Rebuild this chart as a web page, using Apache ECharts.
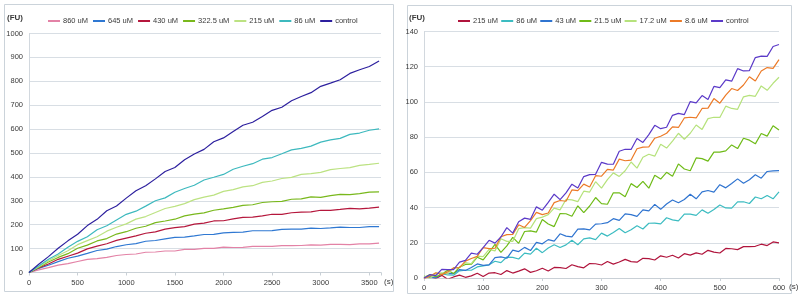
<!DOCTYPE html>
<html>
<head>
<meta charset="utf-8">
<script src="https://cdn.jsdelivr.net/npm/echarts@6/dist/echarts.min.js"></script>
<style>
html,body{margin:0;padding:0;background:#ffffff;}
#chart{width:803px;height:298px;}
</style>
</head>
<body>
<div id="chart"></div>
<script>
// ---------- Left panel data (time in s) ----------
const leftTime = [0,100,200,300,400,500,600,700,800,900,1000,1100,1200,1300,1400,1500,1600,1700,1800,1900,2000,2100,2200,2300,2400,2500,2600,2700,2800,2900,3000,3100,3200,3300,3400,3500,3600];
const leftNames = ['860 uM','645 uM','430 uM','322.5 uM','215 uM','86 uM','control'];
const left860 = [0,11.3,20.5,31.0,36.9,46.0,55.0,58.2,63.2,71.2,75.4,77.4,84.8,85.8,90.0,90.0,96.4,96.4,100.8,100.8,106.0,104.6,105.2,109.6,109.6,109.0,112.2,112.4,113.0,115.2,114.2,117.8,117.4,116.4,120.0,119.4,123.0];
const left645 = [0,17.5,30.3,45.6,59.6,68.6,80.2,92.1,97.5,108.6,116.0,121.0,130.7,133.8,140.6,147.2,148.1,153.3,159.0,159.5,165.6,167.8,169.1,174.6,174.7,175.2,180.6,181.6,181.6,185.7,184.1,186.8,190.0,188.2,188.2,192.1,192.1];
const left430 = [0,19.2,35.6,55.1,68.1,80.9,98.8,110.4,120.4,134.3,143.9,153.3,164.1,170.3,181.7,187.6,192.2,202.2,206.6,215.6,216.5,224.1,230.6,231.8,237.1,243.6,242.9,249.9,253.0,253.6,260.5,259.8,264.0,268.4,266.2,269.6,273.8];
const left3225 = [0,21.3,43.9,63.1,78.8,101.3,114.7,132.0,142.0,160.8,170.7,185.0,193.4,208.9,215.5,223.0,237.1,244.1,249.6,260.5,266.3,272.4,280.5,283.4,292.8,296.0,297.9,306.5,308.4,316.5,314.6,321.3,326.5,325.9,330.1,336.0,337.0];
const left215 = [0,23.9,49.4,71.4,91.1,116.5,133.2,149.7,173.0,189.2,203.5,223.3,234.1,250.8,267.7,276.9,288.2,304.9,315.4,323.6,339.5,346.7,358.3,363.2,377.3,382.9,393.2,398.0,410.4,414.0,418.8,430.4,435.2,438.9,448.0,452.3,457.0];
const left86 = [0,27.2,55.2,77.8,106.0,130.3,149.8,179.0,195.5,219.8,243.3,256.6,277.8,300.1,312.3,336.0,351.4,365.1,387.2,398.4,410.4,431.8,444.7,455.3,474.0,481.0,496.6,513.0,519.3,528.7,545.7,554.8,561.1,577.9,583.5,595.3,601.0];
const leftControl = [0,34.5,66.5,101.4,132.4,159.8,196.3,222.4,258.4,277.9,311.2,342.1,362.9,391.7,422.8,439.6,471.7,495.9,515.2,546.9,563.2,589.5,615.9,628.8,652.8,678.4,691.5,718.7,736.6,752.5,779.0,792.2,806.5,833.0,848.5,861.8,885.0];
const leftColors = ['#e382a6','#2f78d2','#b5173c','#79b81c','#bce282','#3db9be','#2c1f9e'];

// ---------- Right panel data (time in s) ----------
const rightTime = [0,10,20,30,40,50,60,70,80,90,100,110,120,130,140,150,160,170,180,190,200,210,220,230,240,250,260,270,280,290,300,310,320,330,340,350,360,370,380,390,400,410,420,430,440,450,460,470,480,490,500,510,520,530,540,550,560,570,580,590,600];
const rightNames = ['215 uM','86 uM','43 uM','21.5 uM','17.2 uM','8.6 uM','control'];
const right215 = [0,0.7,-0.2,1.5,-0.7,0.6,1.6,0.4,1.2,2.7,0.8,2.8,3.0,2.0,4.2,2.8,3.9,5.2,3.2,4.1,5.5,4.0,6.0,5.9,5.4,7.5,6.5,5.8,8.2,8.1,7.4,9.4,7.9,9.1,10.6,9.3,9.0,11.2,11.0,10.2,12.6,11.8,12.9,11.4,13.8,13.0,14.3,13.5,15.7,14.7,14.2,16.8,16.6,16.1,17.8,17.8,18.0,19.2,18.4,20.5,20.0];
const right86 = [0.2,0.8,0.3,2.4,1.7,1.6,4.1,4.4,4.4,6.3,6.9,7.5,9.5,8.7,11.9,11.7,10.8,14.1,13.6,16.9,14.4,17.0,18.9,17.3,18.8,21.4,18.9,22.2,22.8,21.8,25.5,23.8,25.9,28.1,25.7,27.4,29.7,27.8,31.1,31.2,30.7,34.2,33.0,32.4,36.3,36.3,35.6,38.7,36.8,38.9,41.5,39.8,39.7,43.2,43.3,42.3,46.0,45.0,46.9,45.0,48.9];
const right43 = [0.9,0.3,0.1,2.4,2.6,2.5,4.8,4.3,6.0,8.0,7.2,7.4,11.6,12.0,11.2,15.8,15.0,17.4,15.6,20.2,19.4,21.8,20.9,25.1,23.8,23.4,27.8,27.9,27.3,30.6,30.8,31.4,33.7,32.7,36.4,36.0,35.0,38.7,38.1,41.8,39.0,42.0,44.3,42.7,44.6,47.6,45.0,48.9,49.7,48.8,53.0,51.2,53.7,56.3,53.8,55.8,58.6,56.7,60.5,60.8,61.0];
const right215b = [0.2,1.9,0.7,2.1,4.4,2.5,6.2,7.7,7.8,11.8,10.3,14.5,19.1,14.6,18.2,23.1,19.7,26.4,26.8,26.1,33.2,30.7,29.2,36.6,36.5,35.1,41.0,37.1,40.9,45.7,42.2,41.9,48.4,48.4,46.2,53.6,51.4,54.9,51.0,58.3,56.2,60.0,57.8,64.8,61.9,60.9,68.2,67.8,66.4,71.5,71.5,72.2,75.6,73.5,79.4,78.3,76.2,82.1,80.6,86.5,84.0];
const right172 = [1.2,-0.3,2.6,2.9,2.3,5.9,6.0,8.7,8.1,12.4,12.1,16.3,15.4,22.3,20.8,20.8,28.0,28.6,28.3,33.7,34.6,36.0,39.7,38.7,44.6,44.4,43.4,49.3,48.8,54.7,51.0,55.9,59.7,57.7,60.9,65.9,62.4,68.6,70.3,69.2,76.0,73.8,77.8,82.2,78.8,82.2,86.9,84.4,90.5,91.3,91.2,97.6,96.3,95.8,102.9,103.7,103.2,109.1,106.6,110.6,114.0];
const right86b = [-0.4,1.0,3.0,1.9,3.5,5.7,5.9,9.6,11.1,12.3,17.3,16.7,16.9,23.4,24.6,24.8,30.2,28.7,32.6,37.3,36.0,36.9,42.8,44.0,43.6,50.0,49.6,53.3,51.7,58.1,57.8,61.7,61.3,67.5,66.6,67.0,73.4,74.3,74.5,79.4,80.5,82.2,85.8,85.5,90.9,91.3,90.9,96.3,96.5,101.9,99.3,103.9,107.6,106.5,109.6,114.3,111.9,117.6,119.5,119.1,124.0];
const rightControl = [0,1.9,1.4,4.9,4.8,4.8,9.0,10.0,14.1,13.5,17.3,21.4,19.8,23.3,28.6,25.5,32.0,34.0,33.3,40.4,38.5,42.9,47.6,44.5,48.3,53.3,51.1,57.6,58.7,58.9,65.7,64.7,64.6,72.0,73.1,73.0,79.2,77.0,81.4,86.7,84.8,85.6,92.4,93.5,92.8,100.2,99.5,103.6,101.4,108.8,108.1,112.5,111.8,118.9,117.6,117.8,125.2,126.0,125.9,131.5,132.6];
const rightColors = ['#b0143c','#3cbcc1','#2f74d0','#6fbb18','#b6e27c','#ec7a27','#5b3ac8'];

// tick settings
const leftYMax = 1000, leftYStep = 100, leftXMax = 3620, leftXStep = 500;
const rightYMax = 140, rightYStep = 20, rightXMax = 600, rightXStep = 100;

const FONT = "'Liberation Sans','Arial',sans-serif";
const TXT = '#3a3a3a';
const GRID_C = '#d8dee4';

function pairs(t, v){ return t.map((x,i)=>[x, v[i]]); }

const leftSeriesVals = [left860,left645,left430,left3225,left215,left86,leftControl];
const rightSeriesVals = [right215,right86,right43,right215b,right172,right86b,rightControl];

const series = [];
leftNames.forEach((n,i)=>{
  series.push({type:'line', name:n, xAxisIndex:0, yAxisIndex:0, showSymbol:false, symbol:'none',
    data:pairs(leftTime,leftSeriesVals[i]), lineStyle:{width:1.2,color:leftColors[i]}, itemStyle:{color:leftColors[i]}});
});
rightNames.forEach((n,i)=>{
  series.push({type:'line', name:n, xAxisIndex:1, yAxisIndex:1, showSymbol:false, symbol:'none',
    data:pairs(rightTime,rightSeriesVals[i]), lineStyle:{width:1.2,color:rightColors[i]}, itemStyle:{color:rightColors[i]}});
});

function xAxis(idx, max, step){
  return {type:'value', gridIndex:idx, min:0, max:max, interval:step,
    axisLine:{show:true, lineStyle:{color:'#c9d0d6'}},
    axisTick:{show:true, length:3, lineStyle:{color:'#c9d0d6'}},
    splitLine:{show:false},
    axisLabel:{color:TXT, fontSize:7.5, fontFamily:FONT, margin:6,
      formatter:(v)=> (v % step === 0 ? String(v) : '')}};
}
function yAxis(idx, max, step){
  return {type:'value', gridIndex:idx, min:0, max:max, interval:step,
    axisLine:{show:true, lineStyle:{color:'#d2d8de'}},
    axisTick:{show:false},
    splitLine:{show:true, lineStyle:{color:GRID_C, width:1}},
    axisLabel:{color:TXT, fontSize:7.5, fontFamily:FONT, margin:6, formatter:(v)=>String(v)}};
}

function legend(names, colors, left, gap){
  return {left:left, top:12, icon:'rect', itemWidth:12, itemHeight:2, itemGap:gap,
    textStyle:{color:TXT, fontSize:7.5, fontFamily:FONT, padding:[0,0,0,-2]},
    data:names.map((n,i)=>({name:n, itemStyle:{color:colors[i]}})),
    selectedMode:false};
}

const chart = echarts.init(document.getElementById('chart'), null, {renderer:'canvas'});
chart.setOption({
  animation:false,
  backgroundColor:'#ffffff',
  grid:[
    {left:29, top:33.5, width:352, height:239},
    {left:424, top:31.5, width:355, height:246.5}
  ],
  xAxis:[xAxis(0,leftXMax,leftXStep), xAxis(1,rightXMax,rightXStep)],
  yAxis:[yAxis(0,leftYMax,leftYStep), yAxis(1,rightYMax,rightYStep)],
  legend:[legend(leftNames,leftColors,43,5), legend(rightNames,rightColors,453,3.2)],
  series:series,
  graphic:[
    {type:'rect', shape:{x:4.5,y:4.5,width:389,height:287}, style:{fill:'none', stroke:'#cbd3da', lineWidth:1}, silent:true},
    {type:'rect', shape:{x:407.5,y:5.5,width:384,height:288}, style:{fill:'none', stroke:'#cbd3da', lineWidth:1}, silent:true},
    {type:'text', left:7, top:14, style:{text:'(FU)', fill:TXT, font:"bold 8px "+FONT}},
    {type:'text', left:409, top:14, style:{text:'(FU)', fill:TXT, font:"bold 8px "+FONT}},
    {type:'text', left:384, top:278, style:{text:'(s)', fill:TXT, font:"8px "+FONT}},
    {type:'text', left:789, top:283, style:{text:'(s)', fill:TXT, font:"8px "+FONT}}
  ]
});
</script>
</body>
</html>
